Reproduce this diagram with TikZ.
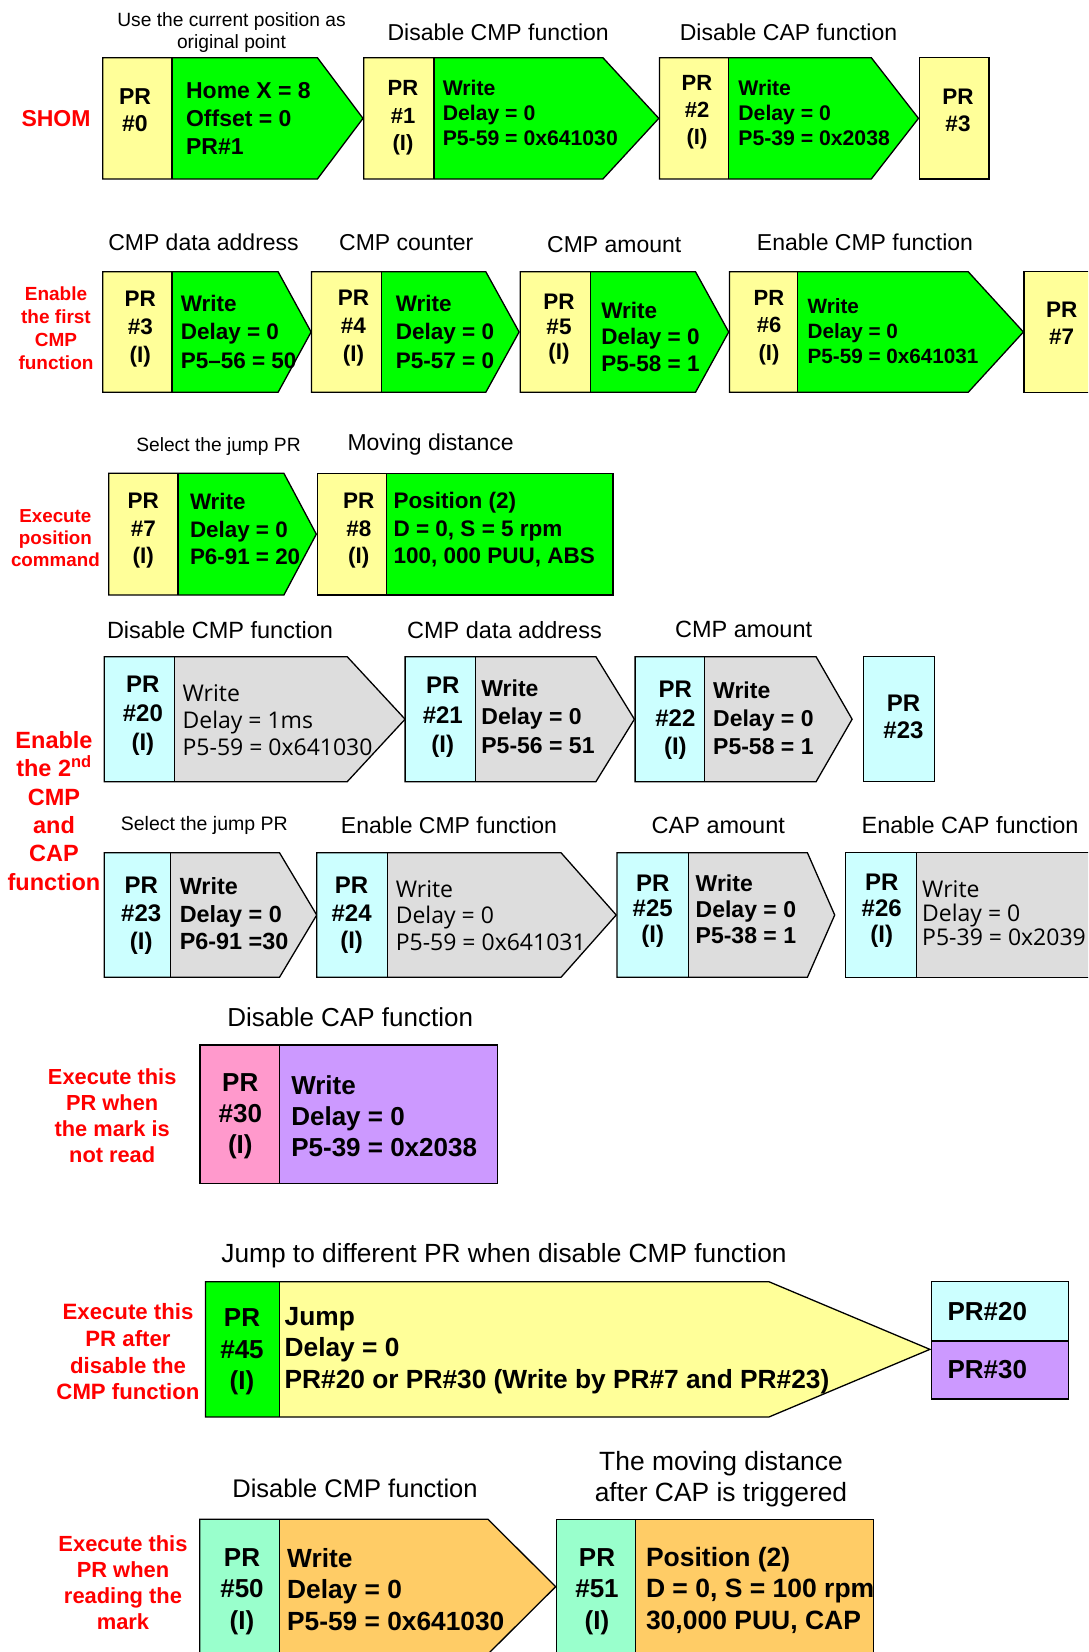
\documentclass[tikz,border=0pt]{standalone}
\usepackage{fontspec}
\setmainfont{Liberation Sans}
\newfontfamily\osans{Open Sans}
\definecolor{cYel}{HTML}{FFFF99}
\definecolor{cGrn}{HTML}{00FF00}
\definecolor{cCyan}{HTML}{CCFFFF}
\definecolor{cGray}{HTML}{DDDDDD}
\definecolor{cPink}{HTML}{FF99CC}
\definecolor{cLav}{HTML}{CC99FF}
\definecolor{cAqua}{HTML}{99FFCC}
\definecolor{cOrg}{HTML}{FFCC66}
\tikzset{
 cell/.style={draw=black, line width=1.3pt, line join=miter},
 bt/.style 2 args={font=\fontsize{#1}{#2}\selectfont\bfseries, inner sep=0pt, align=left, anchor=west},
 gt/.style 2 args={font=\osans\fontsize{#1}{#2}\selectfont, inner sep=0pt, align=left, anchor=west},
 pc/.style 2 args={font=\fontsize{#1}{#2}\selectfont\bfseries, inner sep=0pt, align=center},
 lb/.style 2 args={font=\fontsize{#1}{#2}\selectfont, inner sep=0pt, align=center},
 rl/.style 2 args={font=\fontsize{#1}{#2}\selectfont\bfseries, text=red, inner sep=0pt, align=center},
}
% xL xD xS xT yT yB fillL fillR
\newcommand\prcell[8]{%
 \fill[#7] (#1,#5) rectangle (#2,#6);
 \fill[#8] (#2,#5) -- (#3,#5) -- (#4,{(#5+#6)/2}) -- (#3,#6) -- (#2,#6) -- cycle;
 \draw[cell] (#1,#5) -- (#3,#5) -- (#4,{(#5+#6)/2}) -- (#3,#6) -- (#1,#6) -- cycle;
 \draw[cell] (#2,#5) -- (#2,#6);
}
\newcommand\prrect[5]{\draw[cell, fill=#5] (#1,#3) rectangle (#2,#4);}
\begin{document}
\begin{tikzpicture}[x=1pt,y=-1pt]
\clip (0,0) rectangle (1088,1652);
\fill[white] (0,0) rectangle (1088,1652);
% ---------- Row 1
\prcell{102.8}{171.9}{317.4}{363}{57.7}{179}{cYel}{cGrn}
\prcell{363.7}{433.9}{602.9}{658.8}{57.7}{179}{cYel}{cGrn}
\prcell{659.5}{728.7}{871.3}{918.5}{57.7}{179}{cYel}{cGrn}
\prrect{919.2}{989.1}{57.7}{179}{cYel}
\node[rl={23}{28}] (shom) at (56,118.3) {SHOM};
\node[lb={19.2}{22.7}] (l1a) at (231.5,32.5) {Use the current position as\\original point};
\node[lb={23}{28}] (l1b) at (498.2,32) {Disable CMP function};
\node[lb={23}{28}] (l1c) at (788.5,32.3) {Disable CAP function};
\node[pc={23}{27}] (p0l) at (135,110) {PR\\\#0};
\node[bt={23}{28}] (p0r) at (185.9,118.7) {Home X = 8\\Offset = 0\\PR\#1};
\node[pc={22}{27.5}] (p1l) at (403,117.8) {PR\\\#1\\(I)};
\node[bt={21.2}{25}] (p1r) at (442.6,113) {Write\\Delay = 0\\P5-59 = 0x641030};
\node[pc={22}{27}] (p2l) at (697,112) {PR\\\#2\\(I)};
\node[bt={21.2}{25}] (p2r) at (738.2,113) {Write\\Delay = 0\\P5-39 = 0x2038};
\node[pc={22.5}{27}] (p3a) at (958,110) {PR\\\#3};
% ---------- Row 2
\prcell{102.8}{171.9}{278.1}{311.1}{271.7}{392.3}{cYel}{cGrn}
\prcell{311.5}{381.3}{485.8}{519.1}{271.7}{392.3}{cYel}{cGrn}
\prcell{520.2}{590.7}{695.5}{728.7}{271.7}{392.3}{cYel}{cGrn}
\prcell{729.4}{797.6}{968.2}{1023.4}{271.7}{392.3}{cYel}{cGrn}
\prrect{1024.1}{1100}{271.7}{392.3}{cYel}
\node[rl={19}{23}] (t2) at (56,328) {Enable\\the first\\CMP\\function};
\node[lb={23}{28}] (l2a) at (203.5,242.7) {CMP data address};
\node[lb={23}{28}] (l2b) at (406.3,242.7) {CMP counter};
\node[lb={23}{28}] (l2c) at (614.3,245) {CMP amount};
\node[lb={23}{28}] (l2d) at (865,242.7) {Enable CMP function};
\node[pc={22.5}{28}] (p3l) at (140.3,328.7) {PR\\\#3\\(I)};
\node[bt={22.5}{28.3}] (p3r) at (180.6,331.7) {Write\\Delay = 0\\P5--56 = 50};
\node[pc={22.5}{28}] (p4l) at (353.4,328.5) {PR\\\#4\\(I)};
\node[bt={22.5}{28.3}] (p4r) at (395.7,331.7) {Write\\Delay = 0\\P5-57 = 0};
\node[pc={22.5}{25}] (p5l) at (559,328.7) {PR\\\#5\\(I)};
\node[bt={22.5}{26.7}] (p5r) at (601.2,336.7) {Write\\Delay = 0\\P5-58 = 1};
\node[pc={22}{27.3}] (p6l) at (769,327.7) {PR\\\#6\\(I)};
\node[bt={20.7}{25}] (p6r) at (807.4,331) {Write\\Delay = 0\\P5-59 = 0x641031};
\node[pc={22.5}{26.7}] (p7a) at (1061.7,323.3) {PR\\\#7};
% ---------- Row 3
\prcell{108.7}{177.9}{283.9}{316.3}{473.3}{595}{cYel}{cGrn}
\prcell{317.5}{386.7}{612.9}{612.9}{473.3}{595}{cYel}{cGrn}
\node[rl={18.8}{21.7}] (t3) at (55.4,538.3) {Execute\\position\\command};
\node[lb={19.2}{23}] (l3a) at (218.5,446.7) {Select the jump PR};
\node[lb={23}{28}] (l3b) at (430.6,445) {Moving distance};
\node[pc={22.5}{27.5}] (p7l) at (143.3,531) {PR\\\#7\\(I)};
\node[bt={22.4}{27.5}] (p7r) at (189.8,529.2) {Write\\Delay = 0\\P6-91 = 20};
\node[pc={22.5}{27.5}] (p8l) at (358.8,531) {PR\\\#8\\(I)};
\node[bt={22.5}{27.5}] (p8r) at (393.4,530) {Position (2)\\D = 0, S = 5 rpm\\100, 000 PUU, ABS};
% ---------- Row 4
\prcell{104.2}{174.7}{347.2}{405.1}{656.7}{781.7}{cCyan}{cGray}
\prcell{405.1}{475.3}{595.9}{634.4}{656.7}{781.7}{cCyan}{cGray}
\prcell{635.1}{704.3}{816.1}{852.1}{656.7}{781.7}{cCyan}{cGray}
\prrect{863.3}{934.3}{656.7}{781.7}{cCyan}
\node[rl={23.5}{28.4}] (t4) at (54,810.8) {Enable\\the 2\textsuperscript{nd}\\CMP\\and\\CAP\\function};
\node[lb={23.5}{28}] (l4a) at (220,630) {Disable CMP function};
\node[lb={23.5}{28}] (l4b) at (504.5,630) {CMP data address};
\node[lb={23.5}{28}] (l4c) at (743.6,629.3) {CMP amount};
\node[pc={24}{29}] (p20l) at (142.9,716) {PR\\\#20\\(I)};
\node[gt={23}{26.7}] (p20r) at (182.4,720) {Write\\Delay = 1ms\\P5-59 = 0x641030};
\node[pc={24}{29.5}] (p21l) at (442.8,717.5) {PR\\\#21\\(I)};
\node[bt={23}{28.3}] (p21r) at (481.2,716.7) {Write\\Delay = 0\\P5-56 = 51};
\node[pc={24}{28.3}] (p22l) at (675.4,720.3) {PR\\\#22\\(I)};
\node[bt={23}{28.3}] (p22r) at (713,718.3) {Write\\Delay = 0\\P5-58 = 1};
\node[pc={24}{26.7}] (p23a) at (903.5,716.7) {PR\\\#23};
% ---------- Row 5
\prcell{104.2}{170.8}{279.5}{316.7}{852.7}{977.3}{cCyan}{cGray}
\prcell{316.7}{387.6}{561}{616.2}{852.7}{977.3}{cCyan}{cGray}
\prcell{616.9}{688.5}{807.4}{834.7}{852.7}{977.3}{cCyan}{cGray}
\prcell{845.8}{916.8}{1100}{1100}{852.7}{977.3}{cCyan}{cGray}
\node[lb={19.5}{23}] (l5a) at (204.3,825) {Select the jump PR};
\node[lb={23}{28}] (l5b) at (449,825) {Enable CMP function};
\node[lb={23.5}{28}] (l5c) at (718.3,825) {CAP amount};
\node[lb={23.5}{28}] (l5d) at (970,825) {Enable CAP function};
\node[pc={24}{27.8}] (p23l) at (141.2,915.8) {PR\\\#23\\(I)};
\node[bt={23.4}{27.8}] (p23r) at (179.6,913.8) {Write\\Delay = 0\\P6-91 =30};
\node[pc={24}{27.5}] (p24l) at (351.6,915.5) {PR\\\#24\\(I)};
\node[gt={23}{26.2}] (p24r) at (395.6,915.5) {Write\\Delay = 0\\P5-59 = 0x641031};
\node[pc={24}{25.8}] (p25l) at (652.7,911.2) {PR\\\#25\\(I)};
\node[bt={23}{25.8}] (p25r) at (695.5,909.2) {Write\\Delay = 0\\P5-38 = 1};
\node[pc={24}{26}] (p26l) at (881.7,911) {PR\\\#26\\(I)};
\node[gt={23}{24}] (p26r) at (922,912.8) {Write\\Delay = 0\\P5-39 = 0x2039};
% ---------- Row 6
\prcell{199.9}{279.5}{497.4}{497.4}{1045}{1183.3}{cPink}{cLav}
\node[rl={21.8}{26}] (t6) at (112.2,1115.8) {Execute this\\PR when\\the mark is\\not read};
\node[lb={26}{30}] (l6) at (350.2,1016.7) {Disable CAP function};
\node[pc={26}{30.8}] (p30l) at (240.3,1116) {PR\\\#30\\(I)};
\node[bt={26}{30.8}] (p30r) at (291.1,1116) {Write\\Delay = 0\\P5-39 = 0x2038};
% ---------- Row 7
\prcell{205.4}{279.7}{768.9}{929.9}{1281.7}{1417}{cGrn}{cYel}
\prrect{931.3}{1068.7}{1281.7}{1341}{cCyan}
\prrect{931.3}{1068.7}{1341}{1399}{cLav}
\node[rl={22.2}{26.7}] (t7) at (128,1351.7) {Execute this\\PR after\\disable the\\CMP function};
\node[lb={26.3}{30}] (l7) at (504,1255.5) {Jump to different PR when disable CMP function};
\node[pc={26}{31.7}] (p45l) at (242,1352) {PR\\\#45\\(I)};
\node[bt={26.3}{31.6}] (p45r) at (284.5,1350.5) {Jump\\Delay = 0\\PR\#20 or PR\#30 (Write by PR\#7 and PR\#23)};
\node[bt={26}{30}] (j20) at (947.3,1311.7) {PR\#20};
\node[bt={26}{30}] (j30) at (947.3,1370) {PR\#30};
% ---------- Row 8
\prcell{199.8}{279.6}{488}{555.7}{1519.3}{1654}{cAqua}{cOrg}
\prcell{556.8}{635.5}{873.7}{873.7}{1519.3}{1654}{cAqua}{cOrg}
\node[rl={21.9}{26}] (t8) at (123,1582.5) {Execute this\\PR when\\reading the\\mark};
\node[lb={25.5}{30}] (l8a) at (355,1488) {Disable CMP function};
\node[lb={26.4}{31.6}] (l8b) at (721,1479) {The moving distance\\after CAP is triggered};
\node[pc={26}{31.5}] (p50l) at (242,1591.5) {PR\\\#50\\(I)};
\node[bt={26.3}{31.5}] (p50r) at (287,1589.5) {Write\\Delay = 0\\P5-59 = 0x641030};
\node[pc={26}{31.5}] (p51l) at (597,1591.5) {PR\\\#51\\(I)};
\node[bt={26.5}{31.5}] (p51r) at (645.8,1590) {Position (2)\\D = 0, S = 100 rpm\\30,000 PUU, CAP};
\end{tikzpicture}
\end{document}
